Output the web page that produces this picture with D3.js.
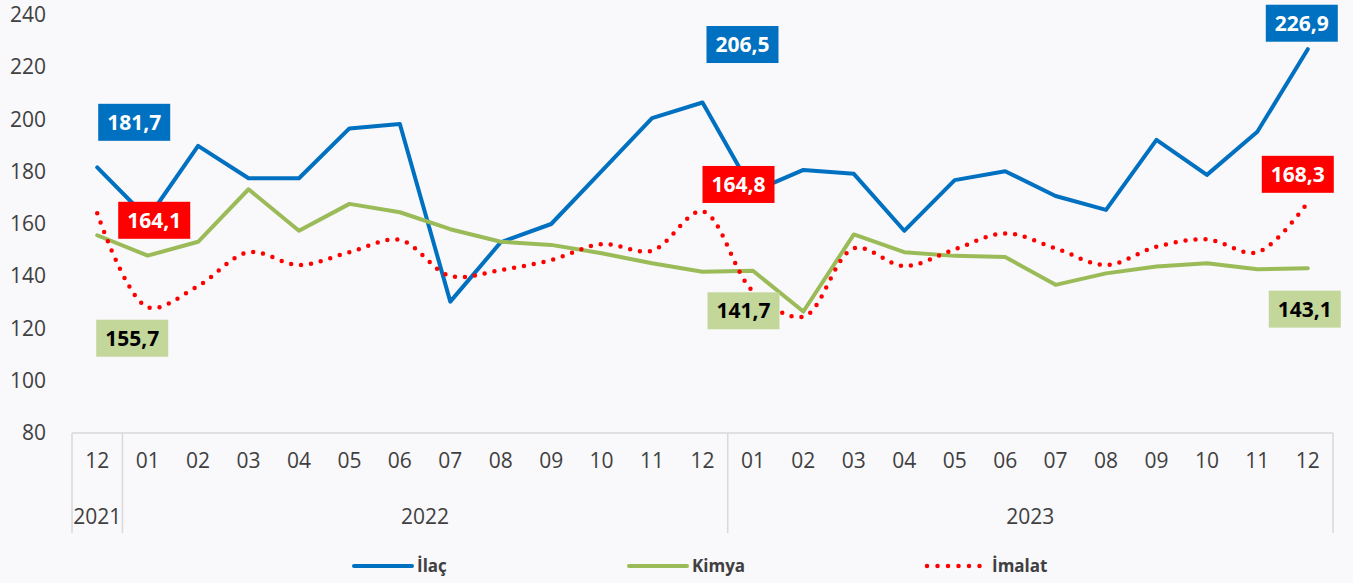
<!DOCTYPE html>
<html lang="tr">
<head>
<meta charset="UTF-8">
<title>İlaç, Kimya, İmalat</title>
<style>
    body { margin: 0; background: #f9f8fb; }
    svg text { font-family: "Open Sans", "Noto Sans", sans-serif; }
</style>
</head>
<body>
<script src="https://d3js.org/d3.v7.min.js"></script>
<script>
    // months (2021-12 ... 2023-12)
    const months = ["12", "01", "02", "03", "04", "05", "06", "07", "08", "09", "10", "11", "12",
                    "01", "02", "03", "04", "05", "06", "07", "08", "09", "10", "11", "12"];
    const years = [
        {label: "2021", from: 0, to: 0},
        {label: "2022", from: 1, to: 12},
        {label: "2023", from: 13, to: 24}
    ];
    const yTicks = [80, 100, 120, 140, 160, 180, 200, 220, 240];

    // values
    const ilac = [181.7, 162.1, 189.9, 177.5, 177.5, 196.6, 198.3, 130.3, 153.0, 160.0, 180.2, 200.5, 206.5,
                  172.4, 180.7, 179.2, 157.4, 176.8, 180.2, 170.7, 165.4, 192.2, 178.8, 195.3, 226.9];
    const kimya = [155.7, 147.9, 153.2, 173.3, 157.4, 167.7, 164.5, 158.0, 153.2, 152.0, 148.8, 145.0, 141.7,
                   142.1, 126.5, 156.0, 149.2, 147.8, 147.4, 136.7, 141.1, 143.7, 145.0, 142.7, 143.1];
    const imalat = [164.1, 128.2, 136.3, 149.2, 144.3, 149.2, 153.9, 140.1, 142.4, 146.2, 152.3, 149.8, 164.8,
                    134.3, 124.5, 150.7, 143.9, 150.3, 156.4, 150.7, 144.3, 151.3, 154.1, 149.2, 168.3];

    // labelled points: [series, index, dx, dy] of the label centre from the point
    const labelSpots = [
        ["ilac", 0, 37, -45], ["imalat", 0, 57, 7], ["kimya", 0, 35, 103],
        ["ilac", 12, 40, -58], ["imalat", 12, 36, -27], ["kimya", 12, 41, 39],
        ["ilac", 24, -6, -26], ["imalat", 24, -10, -28], ["kimya", 24, -3, 41]
    ];

    const series = {
        ilac:   {name: "İlaç",   values: ilac,   color: "#0070c0", box: "#0070c0", text: "#ffffff"},
        kimya:  {name: "Kimya",  values: kimya,  color: "#9bbb59", box: "#c4d79b", text: "#000000"},
        imalat: {name: "İmalat", values: imalat, color: "#ff0000", box: "#ff0000", text: "#ffffff"}
    };

    const W = 1353, H = 583;
    const svg = d3.select("body").append("svg")
        .attr("width", W)
        .attr("height", H);

    svg.append("rect").attr("width", W).attr("height", H).attr("fill", "#f9f8fb");

    // scales
    const x = d3.scaleBand()
        .domain(d3.range(months.length))
        .range([72, 1333]);
    const cx = i => x(i) + x.bandwidth() / 2;
    const y = d3.scaleLinear()
        .domain([80, 240])
        .range([433, 15]);

    // y axis labels only
    const yAxis = svg.append("g")
        .attr("transform", "translate(48,0)")
        .call(d3.axisLeft(y).tickValues(yTicks).tickSize(0).tickPadding(2));
    yAxis.select(".domain").remove();
    yAxis.selectAll("text")
        .attr("font-size", 21)
        .attr("fill", "#404040")
        .style("font-family", "'Open Sans', sans-serif");

    // x axis: base line, year separators and labels
    const axisColor = "#d9d9d9";
    svg.append("line")
        .attr("x1", x.range()[0]).attr("x2", x.range()[1])
        .attr("y1", y(80)).attr("y2", y(80))
        .attr("stroke", axisColor).attr("stroke-width", 1.5);

    const seps = [x(0), x(years[1].from), x(years[2].from), x.range()[1]];
    svg.selectAll(".sep")
        .data(seps)
        .join("line")
        .attr("class", "sep")
        .attr("x1", d => d).attr("x2", d => d)
        .attr("y1", y(80)).attr("y2", y(80) + 100)
        .attr("stroke", axisColor).attr("stroke-width", 1.5);

    svg.selectAll(".month")
        .data(months)
        .join("text")
        .attr("class", "month")
        .attr("x", (d, i) => cx(i))
        .attr("y", y(80) + 35)
        .attr("text-anchor", "middle")
        .attr("font-size", 21)
        .attr("fill", "#404040")
        .text(d => d);

    svg.selectAll(".year")
        .data(years)
        .join("text")
        .attr("class", "year")
        .attr("x", d => (x(d.from) + x(d.to) + x.bandwidth()) / 2)
        .attr("y", y(80) + 91)
        .attr("text-anchor", "middle")
        .attr("font-size", 21)
        .attr("fill", "#404040")
        .text(d => d.label);

    // lines
    const straight = d3.line()
        .x((d, i) => cx(i))
        .y(d => y(d));
    const smooth = d3.line()
        .x((d, i) => cx(i))
        .y(d => y(d))
        .curve(d3.curveCatmullRom.alpha(0.5));

    svg.append("path")
        .datum(ilac)
        .attr("fill", "none")
        .attr("stroke", series.ilac.color)
        .attr("stroke-width", 4)
        .attr("stroke-linejoin", "round")
        .attr("stroke-linecap", "round")
        .attr("d", straight);

    svg.append("path")
        .datum(kimya)
        .attr("fill", "none")
        .attr("stroke", series.kimya.color)
        .attr("stroke-width", 4)
        .attr("stroke-linejoin", "round")
        .attr("stroke-linecap", "round")
        .attr("d", straight);

    svg.append("path")
        .datum(imalat)
        .attr("fill", "none")
        .attr("stroke", series.imalat.color)
        .attr("stroke-width", 4.5)
        .attr("stroke-linecap", "round")
        .attr("stroke-dasharray", "0 10")
        .attr("d", smooth);

    // data labels
    const fmt = v => v.toFixed(1).replace(".", ",");
    const labels = svg.selectAll(".dlabel")
        .data(labelSpots)
        .join("g")
        .attr("class", "dlabel")
        .attr("transform", d => {
            const s = series[d[0]];
            return "translate(" + (cx(d[1]) + d[2]) + "," + (y(s.values[d[1]]) + d[3]) + ")";
        });
    labels.append("rect")
        .attr("x", -36).attr("y", -18.5)
        .attr("width", 72).attr("height", 37)
        .attr("fill", d => series[d[0]].box);
    labels.append("text")
        .attr("text-anchor", "middle")
        .attr("dy", "0.36em")
        .attr("font-size", 21)
        .attr("font-weight", "bold")
        .attr("fill", d => series[d[0]].text)
        .text(d => fmt(series[d[0]].values[d[1]]));

    // legend
    const legendX = [354, 629, 927];
    const legendKeys = ["ilac", "kimya", "imalat"];
    const legend = svg.selectAll(".legend")
        .data(legendKeys)
        .join("g")
        .attr("class", "legend")
        .attr("transform", (d, i) => "translate(" + legendX[i] + ",566)");
    legend.append("line")
        .attr("x1", 0).attr("x2", 58)
        .attr("stroke", d => series[d].color)
        .attr("stroke-width", d => d === "imalat" ? 4.5 : 4)
        .attr("stroke-linecap", "round")
        .attr("stroke-dasharray", d => d === "imalat" ? "0 10.5" : null);
    legend.append("text")
        .attr("x", (d, i) => i === 2 ? 65 : 63)
        .attr("dy", "0.35em")
        .attr("font-size", 17)
        .attr("font-weight", "bold")
        .attr("fill", "#404040")
        .text(d => series[d].name);
</script>
</body>
</html>
